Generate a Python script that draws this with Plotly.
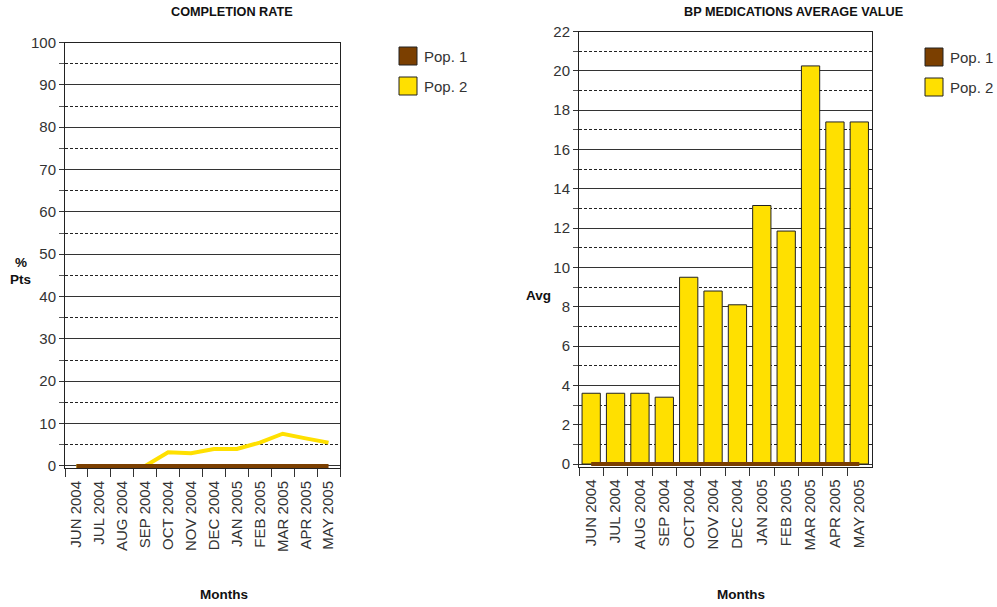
import plotly.graph_objects as go

W, H = 997, 607

months = ["JUN 2004", "JUL 2004", "AUG 2004", "SEP 2004", "OCT 2004", "NOV 2004",
          "DEC 2004", "JAN 2005", "FEB 2005", "MAR 2005", "APR 2005", "MAY 2005"]

# Completion rate (% of patients)
completion_pop1 = [0, 0, 0, 0, 0, 0, 0, 0, 0, 0, 0, 0]
completion_pop2 = [0, 0, 0, 0, 3.2, 3.0, 4.0, 4.0, 5.5, 7.6, 6.5, 5.5]

# BP medications average value
bp_pop1 = [0, 0, 0, 0, 0, 0, 0, 0, 0, 0, 0, 0]
bp_pop2 = [3.6, 3.6, 3.6, 3.4, 9.5, 8.8, 8.1, 13.15, 11.85, 20.25, 17.4, 17.4]

series_names = ["Pop. 1", "Pop. 2"]
BROWN = "#7B3F00"
YELLOW = "#FFE000"
FONT = "Liberation Sans, Arial, sans-serif"


def px_x(x):
    return x / W


def px_y(y):
    return 1 - y / H


fig = go.Figure()

# Left chart: lines
fig.add_trace(go.Scatter(x=months, y=completion_pop2, mode="lines", name=series_names[1],
                         line=dict(color=YELLOW, width=4), xaxis="x", yaxis="y",
                         showlegend=False))
fig.add_trace(go.Scatter(x=months, y=completion_pop1, mode="lines", name=series_names[0],
                         line=dict(color=BROWN, width=4), xaxis="x", yaxis="y",
                         showlegend=False))

# Right chart: bars for Pop. 2, line for Pop. 1
fig.add_trace(go.Bar(x=months, y=bp_pop2, name=series_names[1],
                     marker=dict(color=YELLOW, line=dict(color="#222222", width=1)),
                     xaxis="x2", yaxis="y2", showlegend=False))
fig.add_trace(go.Scatter(x=months, y=bp_pop1, mode="lines", name=series_names[0],
                         line=dict(color=BROWN, width=4), xaxis="x2", yaxis="y2",
                         showlegend=False))

tickfont = dict(family=FONT, size=15, color="#333333")
n_cat = len(months)


def xaxis_cfg(dom, anchor):
    return dict(domain=dom, anchor=anchor, type="category", tickangle=-90,
                range=[-0.5, n_cat - 0.5], ticklabelstandoff=6,
                tickson="boundaries", ticks="outside", ticklen=8, tickcolor="#333333",
                showline=True, linecolor="#222222", linewidth=1, mirror=True,
                showgrid=False, tickfont=tickfont, fixedrange=True, automargin=False)


def yaxis_cfg(dom, anchor, rng, dtick, minor):
    return dict(domain=dom, anchor=anchor, range=rng, dtick=dtick, tick0=0,
                ticks="outside", ticklen=5, tickcolor="#333333",
                showline=True, linecolor="#222222", linewidth=1, mirror=True,
                showgrid=True, gridcolor="#333333", gridwidth=1,
                zeroline=False, tickfont=tickfont, automargin=False,
                minor=dict(dtick=minor, tick0=0, showgrid=True, gridcolor="#222222",
                           griddash="3px,2px", gridwidth=1,
                           ticks="outside", ticklen=5, tickcolor="#555555"))


layout = dict(
    width=W, height=H,
    margin=dict(l=0, r=0, t=0, b=0),
    paper_bgcolor="white", plot_bgcolor="white",
    bargap=0.25,
    font=dict(family=FONT, color="#222222"),
    xaxis=xaxis_cfg([px_x(65), px_x(340)], "y"),
    yaxis=yaxis_cfg([px_y(468), px_y(42.5)], "x", [-0.5, 100], 10, 5),
    xaxis2=xaxis_cfg([px_x(579), px_x(871.5)], "y2"),
    yaxis2=yaxis_cfg([px_y(466.5), px_y(31.5)], "x2", [-0.125, 22], 2, 1),
)

annotations = []
shapes = []


def text(x, y, s, size=13.5, bold=True, xanchor="center"):
    annotations.append(dict(x=px_x(x), y=px_y(y), xref="paper", yref="paper",
                            text=f"<b>{s}</b>" if bold else s, showarrow=False,
                            xanchor=xanchor, yanchor="middle",
                            font=dict(family=FONT, size=size, color="#111111")))


# Titles and axis titles
text(232, 12, "COMPLETION RATE", size=12.7)
text(793, 12, "BP MEDICATIONS AVERAGE VALUE", size=12.7)
text(224, 594, "Months")
text(741, 594, "Months")
text(20.5, 262.5, "%")
text(20.5, 279, "Pts")
text(538, 295, "Avg")

# Legends
for lx, ly0 in [(399, 47), (925, 48)]:
    for i, (name, col) in enumerate(zip(series_names, [BROWN, YELLOW])):
        y0 = ly0 + i * 30
        shapes.append(dict(type="rect", xref="paper", yref="paper",
                           x0=px_x(lx), x1=px_x(lx + 18), y0=px_y(y0 + 18), y1=px_y(y0),
                           fillcolor=col, line=dict(color="#222222", width=1)))
        annotations.append(dict(x=px_x(lx + 23), y=px_y(y0 + 9.5), xref="paper", yref="paper",
                                text=name, showarrow=False, xanchor="left", yanchor="middle",
                                font=dict(family=FONT, size=15, color="#333333")))

layout["annotations"] = annotations
layout["shapes"] = shapes
fig.update_layout(**layout)

fig.write_html("out.html")
